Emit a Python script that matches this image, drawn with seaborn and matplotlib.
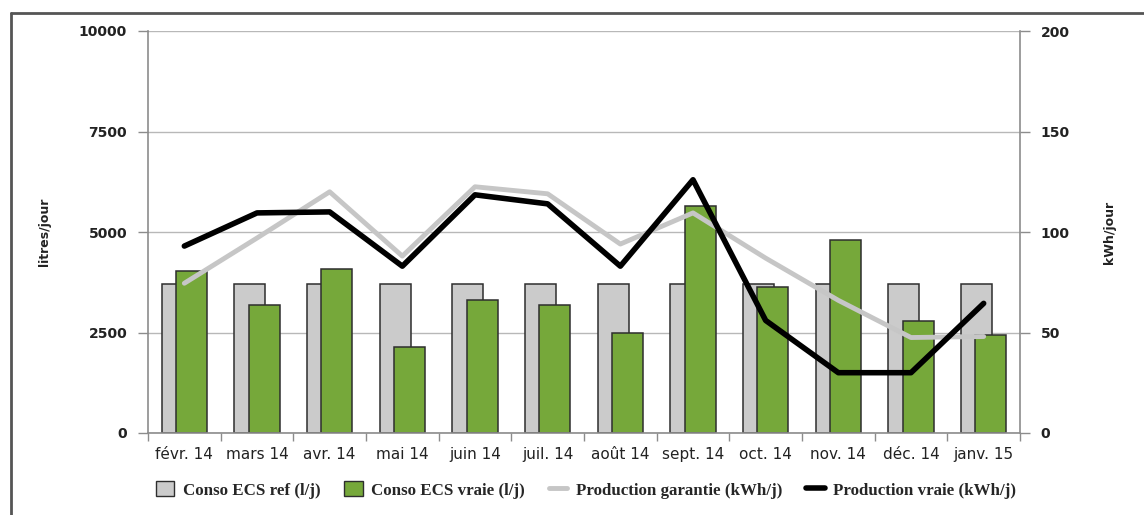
import numpy as np
import pandas as pd
import matplotlib
matplotlib.use("Agg")
import matplotlib.pyplot as plt
from matplotlib.lines import Line2D
from matplotlib.patches import Patch
import seaborn as sns

months = ["févr. 14", "mars 14", "avr. 14", "mai 14", "juin 14", "juil. 14",
          "août 14", "sept. 14", "oct. 14", "nov. 14", "déc. 14", "janv. 15"]
conso_ref = [3700, 3700, 3700, 3700, 3700, 3700, 3700, 3700, 3700, 3700, 3700, 3700]
conso_vraie = [4040, 3180, 4080, 2150, 3310, 3180, 2500, 5650, 3640, 4800, 2790, 2440]
prod_garantie = [74.5, 97, 120, 88, 122.5, 119, 94, 109.5, 87, 66, 47.5, 48]
prod_vraie = [93, 109.5, 110, 83, 118.5, 114, 83, 126, 56, 30, 30, 64.5]

series_names = ["Conso ECS ref (l/j)", "Conso ECS vraie (l/j)",
                "Production garantie (kWh/j)", "Production vraie (kWh/j)"]

GRAY_BAR = "#cbcbcb"
GREEN = "#76a83a"
EDGE = "#2e2e2e"
GRAY_LINE = "#c6c6c6"
AXIS_GRAY = "#8c8c8c"

sns.set_theme(style="white")
plt.rcParams["font.family"] = ["DejaVu Sans"]

fig = plt.figure(figsize=(11.44, 5.15), dpi=100)
ax = fig.add_axes([148/1144, 82/515, (1020-148)/1144, (433-31)/515])

df = pd.DataFrame({
    "mois": months * 2,
    "val": conso_ref + conso_vraie,
    "serie": [series_names[0]] * 12 + [series_names[1]] * 12,
})
sns.barplot(data=df, x="mois", y="val", hue="serie", order=months,
            hue_order=series_names[:2], palette=[GRAY_BAR, GREEN],
            width=0.4, dodge=True, saturation=1, edgecolor=EDGE,
            linewidth=1.1, ax=ax, legend=False, zorder=2)
new_w = 0.425
for p in ax.patches:
    c = p.get_x() + p.get_width() / 2
    p.set_width(new_w)
    p.set_x(c - new_w / 2)

ax.set_xlim(-0.5, 11.5)
ax.set_ylim(0, 10000)
ax.set_yticks([0, 2500, 5000, 7500, 10000])
ax.set_yticklabels(["0", "2500", "5000", "7500", "10000"],
                   fontsize=10, fontweight="bold", color="#222222")
ax.yaxis.grid(True, color="#b8b8b8", linewidth=1.0)
ax.set_axisbelow(True)
ax.set_xlabel("")
ax.set_ylabel("litres/jour", fontsize=9, fontweight="bold", color="#222222", labelpad=20)
ax.set_xticks(range(12))
ax.set_xticklabels(months, fontsize=11, color="#222222")
ax.set_xticks(np.arange(-0.5, 12, 1), minor=True)
ax.tick_params(axis="x", which="major", length=0, pad=10)
ax.tick_params(axis="x", which="minor", length=6, width=1, color=AXIS_GRAY, direction="out", bottom=True)
ax.tick_params(axis="y", length=7, width=1, color=AXIS_GRAY, left=True, pad=8)
for s in ["top", "right"]:
    ax.spines[s].set_visible(False)
for s in ["left", "bottom"]:
    ax.spines[s].set_color(AXIS_GRAY)
    ax.spines[s].set_linewidth(1.2)

ax2 = ax.twinx()
xpos = np.arange(len(months))
sns.lineplot(x=xpos, y=prod_garantie, ax=ax2, color=GRAY_LINE, linewidth=3.5, zorder=3)
sns.lineplot(x=xpos, y=prod_vraie, ax=ax2, color="black", linewidth=4, zorder=4)
ax2.set_ylim(0, 200)
ax2.set_xlim(-0.5, 11.5)
ax2.set_yticks([0, 50, 100, 150, 200])
ax2.set_yticklabels(["0", "50", "100", "150", "200"], fontsize=10,
                    fontweight="bold", color="#222222")
ax2.tick_params(axis="y", length=7, width=1, color=AXIS_GRAY, right=True, pad=8)
ax2.set_ylabel("kWh/jour", fontsize=9, fontweight="bold", color="#222222",
               labelpad=24, rotation=90)
ax2.grid(False)
for s in ["top", "left", "bottom"]:
    ax2.spines[s].set_visible(False)
ax2.spines["right"].set_color(AXIS_GRAY)
ax2.spines["right"].set_linewidth(1.2)

handles = [
    Patch(facecolor=GRAY_BAR, edgecolor=EDGE, linewidth=1),
    Patch(facecolor=GREEN, edgecolor=EDGE, linewidth=1),
    Line2D([0], [0], color=GRAY_LINE, linewidth=3.5),
    Line2D([0], [0], color="black", linewidth=4),
]
fig.legend(handles, series_names, loc="center", bbox_to_anchor=(586/1144, 1 - 490/515),
           ncol=4, frameon=False, handlelength=1.1, handleheight=1.0,
           handletextpad=0.5, columnspacing=1.4,
           prop={"family": "Liberation Serif", "size": 12.2, "weight": "bold"})

# outer frame
fig.add_artist(Line2D([11/1144, 11/1144], [0, 1 - 13/515], transform=fig.transFigure,
                      color="#555555", linewidth=2))
fig.add_artist(Line2D([11/1144, 1], [1 - 13/515, 1 - 13/515], transform=fig.transFigure,
                      color="#555555", linewidth=2))

fig.savefig("out.png", dpi=100)
